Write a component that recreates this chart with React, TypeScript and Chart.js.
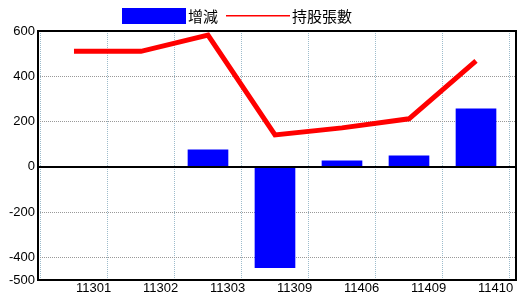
import React, { useEffect, useRef } from "react";
import { Chart, registerables } from "chart.js";

Chart.register(...registerables);

const categories = ["11301", "11302", "11303", "11309", "11406", "11409", "11410"];
const changeValues = [0, 0, 75, -445, 26, 48, 256];
const holdingValues = [510, 510, 582, 141, 172, 212, 468];
const yTickValues = [600, 400, 200, 0, -200, -400, -500];
const seriesNames = ["增減", "持股張數"];

const FONT = "'Liberation Sans Narrow', 'Liberation Sans', sans-serif";

const framePlugin = {
  id: "frameAndLegend",
  afterDatasetsDraw(chart: any) {
    const { ctx, chartArea, scales } = chart;
    ctx.save();
    const y0 = Math.round(scales.y.getPixelForValue(0));
    ctx.strokeStyle = "#000";
    ctx.lineWidth = 2;
    ctx.beginPath();
    ctx.moveTo(chartArea.left, y0);
    ctx.lineTo(chartArea.right, y0);
    ctx.stroke();
    ctx.strokeRect(chartArea.left, chartArea.top, chartArea.right - chartArea.left, chartArea.bottom - chartArea.top);
    ctx.restore();
  },
  afterDraw(chart: any) {
    const { ctx } = chart;
    ctx.save();
    ctx.fillStyle = "#0000ff";
    ctx.fillRect(122, 8, 64, 16);
    ctx.fillStyle = "#ff0000";
    ctx.fillRect(226, 15, 64, 1.5);
    ctx.font = "15px 'Noto Sans CJK TC', sans-serif";
    ctx.textBaseline = "middle";
    ctx.textAlign = "left";
    ctx.fillStyle = "#000";
    ctx.fillText(seriesNames[0], 188, 16);
    ctx.fillText(seriesNames[1], 292, 16);
    ctx.restore();
  },
};

export default function App() {
  const ref = useRef<HTMLCanvasElement>(null);
  useEffect(() => {
    if (!ref.current) return;
    const chart = new Chart(ref.current, {
      type: "bar",
      data: {
        datasets: [
          {
            type: "line",
            label: seriesNames[1],
            data: holdingValues.map((v, i) => ({ x: i, y: v })),
            borderColor: "#ff0000",
            backgroundColor: "#ff0000",
            borderWidth: 5,
            pointRadius: 0,
            tension: 0,
            order: 0,
          } as any,
          {
            type: "bar",
            label: seriesNames[0],
            data: changeValues.map((v, i) => ({ x: i, y: v })),
            backgroundColor: "#0000ff",
            borderWidth: 0,
            barThickness: 40,
            order: 1,
          } as any,
        ],
      },
      options: {
        animation: false,
        responsive: false,
        maintainAspectRatio: false,
        layout: { padding: { top: 31, right: 4, left: 0, bottom: 0 } },
        plugins: { legend: { display: false }, tooltip: { enabled: false } },
        scales: {
          x: {
            type: "linear",
            min: -0.537,
            max: 6.597,
            offset: false,
            afterBuildTicks: (s: any) => {
              s.ticks = categories.map((_, i) => ({ value: i }));
            },
            afterFit: (s: any) => {
              s.height = 20;
            },
            ticks: {
              callback: (v: any) => categories[v as number] ?? "",
              font: { family: FONT, size: 13 },
              color: "#000",
              align: "start",
              labelOffset: 2,
              padding: 1,
              maxRotation: 0,
              autoSkip: false,
            },
            grid: { color: "#9dbccc", lineWidth: 1, drawTicks: false },
            border: { display: false, dash: [1, 1] },
          },
          y: {
            min: -500,
            max: 600,
            afterBuildTicks: (s: any) => {
              s.ticks = yTickValues.map((v) => ({ value: v }));
            },
            afterFit: (s: any) => {
              s.width = 38;
            },
            ticks: {
              font: { family: FONT, size: 13 },
              color: "#000",
              padding: 3,
            },
            grid: {
              color: (c: any) => (c.tick && c.tick.value === 0 ? "rgba(0,0,0,0)" : "#999999"),
              lineWidth: 1,
              drawTicks: false,
            },
            border: { display: false, dash: [1, 1] },
          },
        },
      },
      plugins: [framePlugin],
    });
    return () => chart.destroy();
  }, []);
  return (
    <div style={{ position: "fixed", left: 0, top: 0, width: 520, height: 300, background: "#fff" }}>
      <canvas ref={ref} width={520} height={300} style={{ width: 520, height: 300 }} />
    </div>
  );
}
